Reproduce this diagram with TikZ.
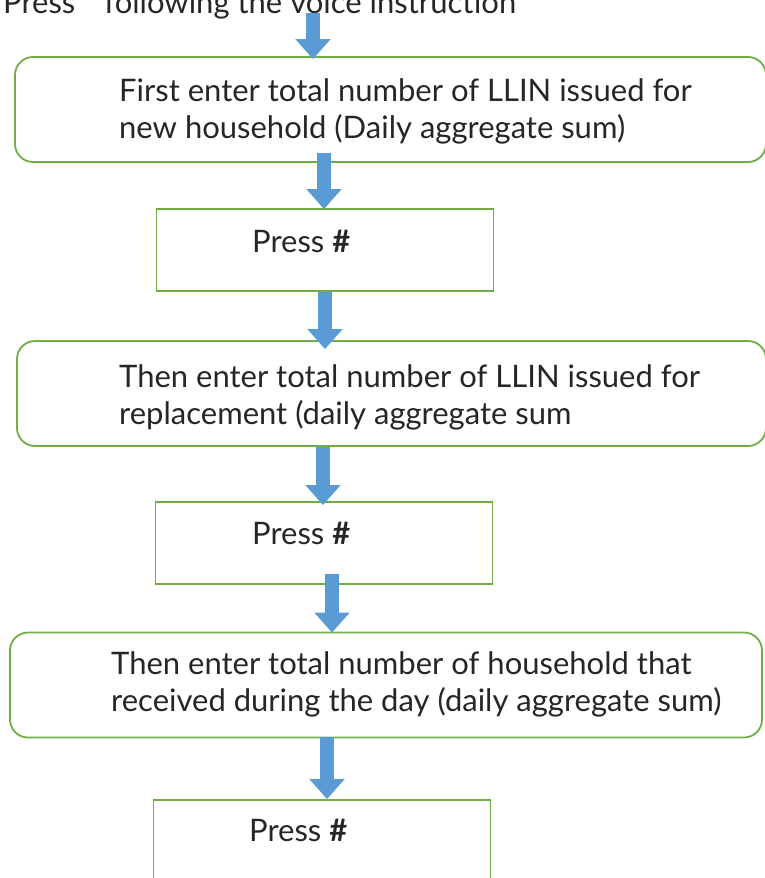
\documentclass[tikz,border=0pt]{standalone}
\usepackage{fontspec}
\setmainfont{Lato}
\usetikzlibrary{arrows.meta}
\definecolor{boxgreen}{HTML}{70AD47}
\definecolor{arrowblue}{HTML}{5B9BD5}
\tikzset{
  roundbox/.style={draw=boxgreen, line width=1.8pt, rounded corners=18pt, minimum width=#1, minimum height=105pt, inner sep=0pt},
  sqbox/.style={draw=boxgreen, line width=1.8pt, minimum width=337pt, minimum height=82pt, inner sep=0pt},
  txt/.style={font=\fontsize{31}{37}\selectfont, align=left, anchor=west, inner sep=0pt, text=black!85},
  flow/.style={draw=arrowblue, line width=14pt, -{Triangle[width=34pt,length=20pt]}}
}
\begin{document}
\begin{tikzpicture}[x=1pt,y=-1pt]
\useasboundingbox (0,0) rectangle (765,878);
\clip (0,0) rectangle (765,878);
\node[txt, anchor=base west] (t0) at (3,13) {Press * following the voice instruction};
\node[roundbox=751pt] (b1) at (390.5,109.5) {};
\node[txt] (t1) at (119,111.5) {First enter total number of LLIN issued for\\new household (Daily aggregate sum)};
\node[sqbox] (b2) at (325,250) {};
\node[txt] (t2) at (252,241) {Press \textbf{\#}};
\node[roundbox=749pt] (b3) at (391.5,393.5) {};
\node[txt] (t3) at (119,397) {Then enter total number of LLIN issued for\\replacement (daily aggregate sum};
\node[sqbox] (b4) at (324,543) {};
\node[txt] (t4) at (252,533) {Press \textbf{\#}};
\node[roundbox=752pt] (b5) at (386,685) {};
\node[txt] (t5) at (111,684) {Then enter total number of household that\\received during the day (daily aggregate sum)};
\node[sqbox] (b6) at (322,841) {};
\node[txt] (t6) at (249,830) {Press \textbf{\#}};
\draw[flow] ([xshift=-77.5pt]b1.north |- t0.base) -- ([xshift=-77.5pt,yshift=-3pt]b1.north);
\draw[flow] ([xshift=-66.5pt,yshift=10pt]b1.south) -- ([xshift=-1pt,yshift=-1pt]b2.north);
\draw[flow] (b2.south) -- ([xshift=-66.5pt,yshift=-9pt]b3.north);
\draw[flow] ([xshift=-68.5pt]b3.south) -- ([xshift=-1pt,yshift=-4pt]b4.north);
\draw[flow] ([xshift=8pt,yshift=11pt]b4.south) -- ([xshift=-54pt,yshift=-1pt]b5.north);
\draw[flow] ([xshift=-59pt,yshift=1pt]b5.south) -- ([xshift=5pt]b6.north);
\end{tikzpicture}
\end{document}
